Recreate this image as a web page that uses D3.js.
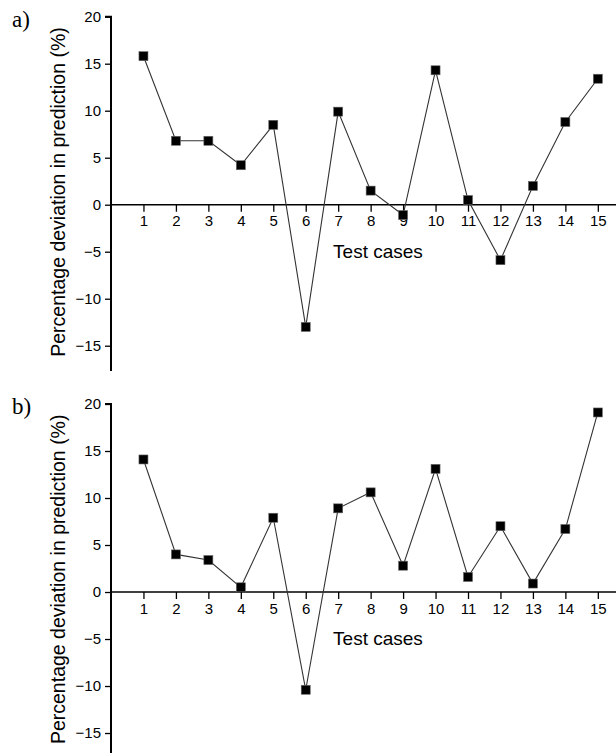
<!DOCTYPE html>
<html>
<head>
<meta charset="utf-8">
<script src="https://cdn.jsdelivr.net/npm/d3@7"></script>
<style>
  body { margin: 0; background: #fff; }
  svg { display: block; }
  text { font-family: "Liberation Sans", Arial, sans-serif; fill: #000; }
</style>
</head>
<body>
<div id="chart"></div>
<script>
(function () {
  "use strict";

  // test cases 1..15
  var testCases = [1, 2, 3, 4, 5, 6, 7, 8, 9, 10, 11, 12, 13, 14, 15];
  // percentage deviation, panel a)
  var deviationA = [15.8, 6.8, 6.8, 4.2, 8.5, -13.0, 9.9, 1.5, -1.1, 14.3, 0.5, -5.9, 2.0, 8.8, 13.4];
  // percentage deviation, panel b)
  var deviationB = [14.1, 4.0, 3.4, 0.5, 7.9, -10.4, 8.9, 10.6, 2.8, 13.1, 1.6, 7.0, 0.9, 6.7, 19.1];
  var yTicks = [20, 15, 10, 5, 0, -5, -10, -15];
  var panelLabels = ["a)", "b)"];

  var w = 616,
    h = 753,
    svg;

  function createSvg() {
    svg = d3.select("#chart")
      .append("svg")
      .attr("width", w)
      .attr("height", h);
  }

  function drawPanel(values, top, label) {
    var g = svg.append("g").attr("transform", "translate(0," + top + ")");

    var x = d3.scaleLinear().domain([0, 15.56]).range([111, 616]);
    var y = d3.scaleLinear().domain([-17.7, 20]).range([371.1, 16.7]);

    // y axis
    var yAxis = d3.axisLeft(y).tickValues(yTicks).tickSize(6).tickPadding(4);
    var ya = g.append("g").attr("transform", "translate(" + x(0) + ",0)").call(yAxis);
    ya.select(".domain").attr("stroke-width", 2).attr("d", "M-6," + y(20) + "H0V" + y(-17.7));
    ya.selectAll(".tick line").attr("stroke-width", 1.3);
    ya.selectAll("text").style("font-size", "15px");

    // x axis through zero
    var xAxis = d3.axisBottom(x).tickValues(testCases).tickSize(7).tickPadding(4);
    var xa = g.append("g").attr("transform", "translate(0," + y(0) + ")").call(xAxis);
    xa.select(".domain").attr("stroke-width", 1.5).attr("d", "M" + x(0) + ",0H616");
    xa.selectAll(".tick line").attr("stroke-width", 1.3);
    xa.selectAll("text").style("font-size", "15px");

    // axis titles
    g.append("text")
      .attr("x", 378)
      .attr("y", y(0) + 53)
      .attr("text-anchor", "middle")
      .style("font-size", "19px")
      .text("Test cases");

    g.append("text")
      .attr("transform", "translate(65," + 192 + ") rotate(-90)")
      .attr("text-anchor", "middle")
      .style("font-size", "19.5px")
      .text("Percentage deviation in prediction (%)");

    g.append("text")
      .attr("x", 12)
      .attr("y", 27)
      .style("font-family", "'Liberation Serif', 'Times New Roman', serif")
      .style("font-size", "23px")
      .text(label);

    // line
    var line = d3.line()
      .x(function (d, i) { return x(testCases[i]); })
      .y(function (d) { return y(d); });

    g.append("path")
      .datum(values)
      .attr("d", line)
      .attr("fill", "none")
      .attr("stroke", "#333")
      .attr("stroke-width", 1.1);

    // markers
    g.selectAll(".marker")
      .data(values)
      .enter().append("rect")
      .attr("class", "marker")
      .attr("x", function (d, i) { return x(testCases[i]) - 4.5; })
      .attr("y", function (d) { return y(d) - 4.5; })
      .attr("width", 9)
      .attr("height", 9)
      .attr("fill", "#000")
      .attr("stroke", "#666")
      .attr("stroke-width", 0.6);
  }

  createSvg();
  drawPanel(deviationA, 0, panelLabels[0]);
  drawPanel(deviationB, 387.3, panelLabels[1]);
})();
</script>
</body>
</html>
